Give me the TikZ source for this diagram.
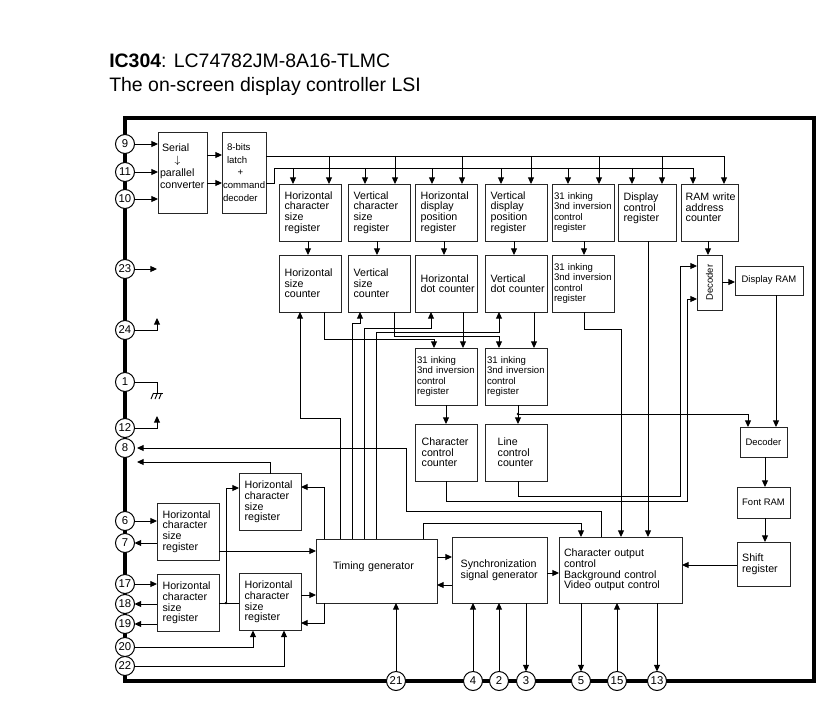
\documentclass[tikz,border=0pt]{standalone}
\usepackage{fontspec}
\setmainfont{Liberation Sans}
\usetikzlibrary{arrows.meta,positioning,calc}
\definecolor{boxline}{HTML}{262626}
\newcommand{\boxfont}{\fontsize{8}{7.9}\selectfont}
\newcommand{\inkfont}{\fontsize{7.2}{7.9}\selectfont}
\newcommand{\smallfont}{\fontsize{7.1}{8}\selectfont}
\tikzset{
  block/.style={rectangle,draw=boxline,line width=0.7pt,fill=white,align=left,outer sep=0pt,inner ysep=0pt,font=\boxfont},
  regbox/.style={block,text width=38.1pt,inner xsep=4.2pt,minimum height=42.75pt},
  inkbox/.style={block,font=\inkfont,text width=43.5pt,inner xsep=1.5pt,minimum height=42.75pt},
  rambox/.style={block,font=\smallfont,align=center},
  pincircle/.style={circle,draw=black,line width=0.75pt,fill=white,minimum size=14.25pt,inner sep=0pt,outer sep=0pt,font=\fontsize{8.5}{8.5}\selectfont},
  tapdot/.style={circle,fill=black,minimum size=2pt,inner sep=0pt,outer sep=0pt},
  wire/.style={line width=0.7pt,black},
  arrow/.style={wire,-{Triangle[length=5pt,width=4.5pt]}}
}

\begin{document}
\begin{tikzpicture}[x=0.75pt,y=-0.75pt]
    \useasboundingbox (0,0) rectangle (827,702);
    \node[anchor=west,align=left,inner sep=0pt,font=\fontsize{14.6}{18}\selectfont] (title) at (109,75) {\textbf{IC304}: LC74782JM-8A16-TLMC\\The on-screen display controller LSI};
    \node[rectangle,draw=black,line width=3pt,minimum width=516.75pt,minimum height=422.25pt,outer sep=0pt] (chip) at (469.5,399.5) {};

    \node[block,minimum width=36.75pt,minimum height=60.75pt,text width=33.75pt,inner xsep=1.5pt,font=\fontsize{8}{9.4}\selectfont] (serial) at (182.5,172.5) {\hspace*{1.5pt}Serial\\\hspace*{11pt}$\downarrow$\\parallel\\converter\\~};
    \node[block,right=11.25pt of serial,minimum width=33pt,minimum height=60.75pt,text width=31.5pt,inner xsep=0.75pt,font=\fontsize{7.2}{9.6}\selectfont] (latch) {\hspace*{3pt}8-bits\\\hspace*{3pt}latch\\\hspace*{11pt}+\\command\\decoder};

    \node[regbox] (hcsr) at (310,212.5) {Horizontal\\character\\size\\register};
    \node[regbox,right=5.25pt of hcsr] (vcsr) {Vertical\\character\\size\\register};
    \node[regbox,right=3.75pt of vcsr] (hdpr) {Horizontal\\display\\position\\register};
    \node[regbox,right=6pt of hdpr] (vdpr) {Vertical\\display\\position\\register};
    \node[inkbox,right=3.75pt of vdpr] (inkA) {31 inking\\3nd inversion\\control\\register};
    \node[regbox,right=3pt of inkA,text width=35.1pt] (dcr) {Display\\control\\register\\~};
    \node[regbox,right=3.75pt of dcr,text width=35.75pt,inner xsep=3.5pt] (ramcnt) {\mbox{RAM write}\\address\\counter\\~};

    \node[regbox,below=10.5pt of hcsr] (hsc) {Horizontal\\size\\counter};
    \node[regbox,below=10.5pt of vcsr] (vsc) {Vertical\\size\\counter};
    \node[regbox,below=10.5pt of hdpr] (hdc) {Horizontal\\\mbox{dot counter}};
    \node[regbox,below=10.5pt of vdpr] (vdc) {Vertical\\\mbox{dot counter}};
    \node[inkbox,below=10.5pt of inkA] (inkB) {31 inking\\3nd inversion\\control\\register};

    \node[block,minimum width=18.75pt,minimum height=41.25pt,inner xsep=0pt,font=\smallfont] (decA) at (709.5,282.5) {\rotatebox{90}{Decoder}};
    \node[rambox,minimum width=51pt,minimum height=21.75pt] (dram) at (769,280.5) {Display RAM};

    \node[inkbox,below=27pt of hdc] (inkC) {31 inking\\3nd inversion\\control\\register};
    \node[inkbox,below=27pt of vdc] (inkD) {31 inking\\3nd inversion\\control\\register};
    \node[regbox,below=14.25pt of inkC,inner xsep=5pt,text width=36.5pt] (chrctl) {Character\\control\\counter};
    \node[regbox,below=14.25pt of inkD,inner xsep=9.5pt,text width=27.5pt] (linectl) {Line\\control\\counter};

    \node[rambox,minimum width=35.25pt,minimum height=22.5pt] (decB) at (763.5,442) {Decoder};
    \node[rambox,minimum width=39.75pt,minimum height=23.25pt] (fontram) at (763.5,502.5) {Font RAM};
    \node[block,minimum width=39.75pt,minimum height=33pt,text width=36pt,inner xsep=1.875pt] (shiftreg) at (763.5,564) {\hspace*{2pt}Shift\\\hspace*{2pt}register};

    \node[block,minimum width=92.25pt,minimum height=49.5pt,text width=84.75pt,inner xsep=3.75pt] (outctl) at (620.5,570) {Character output\\control\\Background control\\Video output control};
    \node[block,minimum width=71.25pt,minimum height=49.5pt,text width=58.25pt,inner xsep=6.5pt] (syncgen) at (499.5,570) {Synchronization\\signal generator};
    \node[block,minimum width=90.75pt,minimum height=48pt,text width=65.25pt,inner xsep=12.75pt] (timinggen) at (376.5,571) {Timing generator\\~};

    \node[regbox] (regA) at (270,502) {Horizontal\\character\\size\\register};
    \node[regbox] (regB) at (188,531.5) {Horizontal\\character\\size\\register};
    \node[regbox] (regC) at (188,603) {Horizontal\\character\\size\\register};
    \node[regbox] (regD) at (270,602) {Horizontal\\character\\size\\register};

    \node[pincircle] (p9) at (125,144) {9};
    \node[pincircle] (p11) at (125,172) {11};
    \node[pincircle] (p10) at (125,199) {10};
    \node[pincircle] (p23) at (125,269) {23};
    \node[pincircle] (p24) at (125,330) {24};
    \node[pincircle] (p1) at (125,382) {1};
    \node[pincircle] (p12) at (125,428) {12};
    \node[pincircle] (p8) at (125,448) {8};
    \node[pincircle] (p6) at (125,521) {6};
    \node[pincircle] (p7) at (125,543) {7};
    \node[pincircle] (p17) at (125,584) {17};
    \node[pincircle] (p18) at (125,604) {18};
    \node[pincircle] (p19) at (125,624) {19};
    \node[pincircle] (p20) at (125,647) {20};
    \node[pincircle] (p22) at (125,666) {22};
    \node[pincircle] (p21) at (396,681) {21};
    \node[pincircle] (p4) at (473,681) {4};
    \node[pincircle] (p2) at (499,681) {2};
    \node[pincircle] (p3) at (526,681) {3};
    \node[pincircle] (p5) at (581,681) {5};
    \node[pincircle] (p15) at (617,681) {15};
    \node[pincircle] (p13) at (657,681) {13};

    \coordinate (c23) at (157,269);
    \coordinate (c24) at (157,318);
    \coordinate (c12) at (157,416);
    \coordinate (gnd) at (157,393);
    \coordinate (c8) at (137,448);
    \coordinate (c8b) at (137,462);
    \coordinate (busA) at (274,156);
    \coordinate (busB) at (274,168);
    \node[tapdot] (tapA) at (518,414) {};
    \node[tapdot] (tapB) at (226,603) {};

    \draw[arrow] (p9) -- (serial.west |- p9);
    \draw[arrow] (p11) -- (serial.west |- p11);
    \draw[arrow] (p10) -- (serial.west |- p10);
    \draw[arrow] (p23) -- (c23);
    \draw[arrow] (p24) -| (c24);
    \draw[arrow] (p12) -| (c12);
    \draw[wire] (p1) -| (gnd);
    \draw[wire] (153,393) -- (163,393);
    \draw[wire] (153.5,393) -- ++(-2.5,6);
    \draw[wire] (157.5,393) -- ++(-2.5,6);
    \draw[wire] (161.5,393) -- ++(-2.5,6);

    \draw[arrow] (serial.east |- 0,155) -- (latch.west |- 0,155);
    \draw[arrow] (serial.east |- 0,183) -- (latch.west |- 0,183);
    \draw[arrow] (latch.east |- busA) -- (724,156) -- (724,0 |- ramcnt.north);
    \draw[arrow] (latch.east |- 0,183) -- (274,183) |- (693,168) -- (693,0 |- ramcnt.north);

    \draw[arrow] (busB -| 293,0) -- (293,0 |- hcsr.north);
    \draw[arrow] (busA -| 329,0) -- (329,0 |- hcsr.north);
    \draw[arrow] (busB -| 365,0) -- (365,0 |- vcsr.north);
    \draw[arrow] (busA -| 395,0) -- (395,0 |- vcsr.north);
    \draw[arrow] (busB -| 432,0) -- (432,0 |- hdpr.north);
    \draw[arrow] (busA -| 462,0) -- (462,0 |- hdpr.north);
    \draw[arrow] (busB -| 501,0) -- (501,0 |- vdpr.north);
    \draw[arrow] (busA -| 531,0) -- (531,0 |- vdpr.north);
    \draw[arrow] (busB -| 568,0) -- (568,0 |- inkA.north);
    \draw[arrow] (busA -| 599,0) -- (599,0 |- inkA.north);
    \draw[arrow] (busB -| 632,0) -- (632,0 |- dcr.north);
    \draw[arrow] (busA -| 662,0) -- (662,0 |- dcr.north);

    \draw[arrow] (hcsr.south -| 308,0) -- (hsc.north -| 308,0);
    \draw[arrow] (vcsr.south -| 377,0) -- (vsc.north -| 377,0);
    \draw[arrow] (hdpr.south -| 444,0) -- (hdc.north -| 444,0);
    \draw[arrow] (vdpr.south -| 514,0) -- (vdc.north -| 514,0);
    \draw[arrow] (inkA.south -| 584,0) -- (inkB.north -| 584,0);
    \draw[arrow] (ramcnt.south -| 708,0) -- (decA.north -| 708,0);
    \draw[arrow] (decA.east |- 0,282) -- (dram.west |- 0,282);

    \draw[arrow] (hsc.south -| 324,0) |- (434,339) -- (434,0 |- inkC.north);
    \draw[arrow] (vsc.south -| 394,0) |- (499,336) -- (499,0 |- inkD.north);
    \draw[arrow] (hdc.south -| 463,0) -- (inkC.north -| 463,0);
    \draw[arrow] (vdc.south -| 534,0) -- (inkD.north -| 534,0);
    \draw[arrow] (inkC.south) -- (chrctl.north);
    \draw[arrow] (inkD.south -| 518,0) -- (linectl.north -| 518,0);
    \draw[arrow] (tapA) -| (748,0 |- decB.north);

    \draw[arrow] (inkB.south -| 584,0) |- (621,329) -- (621,0 |- outctl.north);
    \draw[arrow] (dcr.south -| 648,0) -- (outctl.north -| 648,0);
    \draw[arrow] (chrctl.south) |- (687,501) |- (decA.west |- 0,299);
    \draw[arrow] (linectl.south -| 518,0) |- (680,496) |- (decA.west |- 0,266);

    \draw[arrow] (dram.south -| 776,0) -- (decB.north -| 776,0);
    \draw[arrow] (decB.south -| 765,0) -- (fontram.north -| 765,0);
    \draw[arrow] (fontram.south -| 765,0) -- (shiftreg.north -| 765,0);
    \draw[arrow] (shiftreg.west |- 0,565) -- (outctl.east |- 0,565);

    \draw[arrow] (timinggen.north -| 340,0) |- (300,418) -- (300,0 |- hsc.south);
    \draw[arrow] (timinggen.north -| 352,0) |- (360,323) -- (360,0 |- vsc.south);
    \draw[arrow] (timinggen.north -| 364,0) |- (431,328) -- (431,0 |- hdc.south);
    \draw[arrow] (timinggen.north -| 376,0) |- (499,332) -- (499,0 |- vdc.south);
    \draw[arrow] (outctl.north -| 601,0) |- (406,511) |- (c8);
    \draw[arrow] (regA.north) |- (c8b);
    \draw[arrow] (timinggen.north -| 324,0) |- (regA.east |- 0,487);
    \draw[arrow] (timinggen.north -| 423,0) |- (581,523) -- (581,0 |- outctl.north);

    \draw[arrow] (p6) -- (regB.west |- p6);
    \draw[arrow] (regB.west |- p7) -- (p7);
    \draw[arrow] (p17) -- (regC.west |- p17);
    \draw[arrow] (regC.west |- p18) -- (p18);
    \draw[arrow] (regC.west |- p19) -- (p19);
    \draw[arrow] (regB.east |- 0,551) -- (timinggen.west |- 0,551);
    \draw[wire] (regC.east |- tapB) -- (regD.west |- tapB);
    \draw[arrow] (tapB) |- (regA.west |- 0,488);
    \draw[arrow] (regD.east |- 0,595) -- (timinggen.west |- 0,595);
    \draw[arrow] (timinggen.south -| 324,0) |- (regD.east |- 0,623);
    \draw[arrow] (p20) -| (253,0 |- regD.south);
    \draw[arrow] (p22) -| (284,0 |- regD.south);

    \draw[arrow] (timinggen.east |- 0,557) -- (syncgen.west |- 0,557);
    \draw[arrow] (syncgen.west |- 0,585) -- (timinggen.east |- 0,585);
    \draw[arrow] (syncgen.east |- 0,573) -- (outctl.west |- 0,573);

    \draw[arrow] (p21) -- (timinggen.south -| p21);
    \draw[arrow] (p4) -- (syncgen.south -| p4);
    \draw[arrow] (p2) -- (syncgen.south -| p2);
    \draw[arrow] (syncgen.south -| p3) -- (p3);
    \draw[arrow] (outctl.south -| p5) -- (p5);
    \draw[arrow] (p15) -- (outctl.south -| p15);
    \draw[arrow] (outctl.south -| p13) -- (p13);
\end{tikzpicture}
\end{document}
